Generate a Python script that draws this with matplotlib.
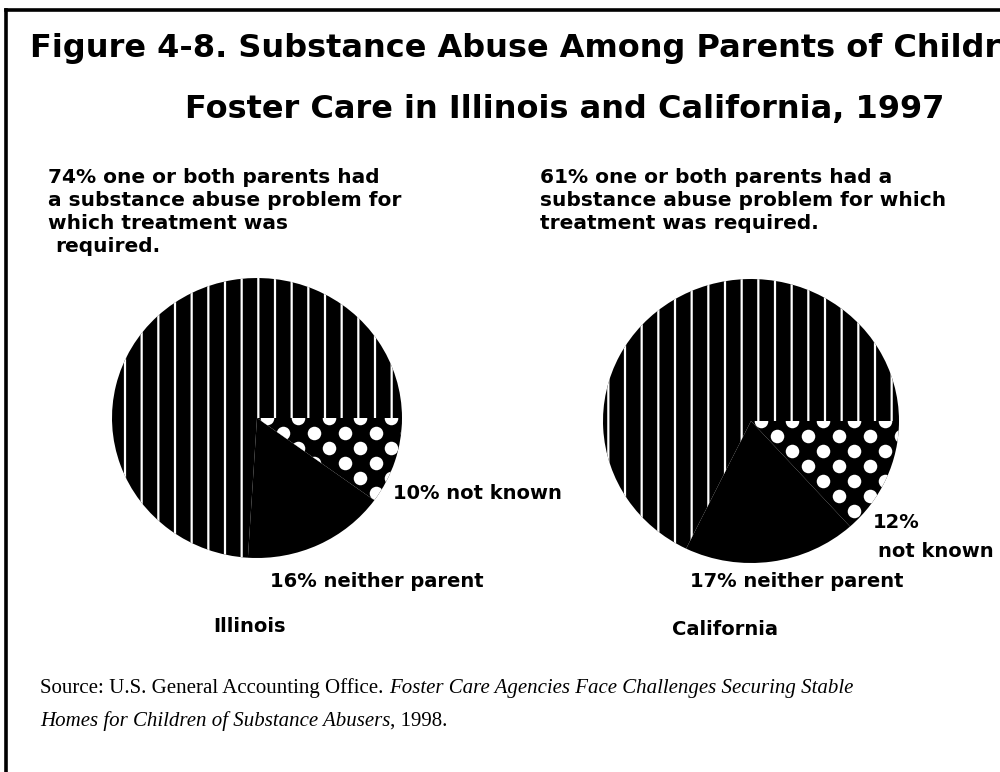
import matplotlib.pyplot as plt
from matplotlib.lines import Line2D
import numpy as np

plt.rcParams["hatch.linewidth"] = 1.6

W, H = 1000, 772

states = ["Illinois", "California"]
treatment_pct = [74, 61]
neither_pct = [16, 17]
unknown_pct = [10, 12]

title_lines = ["Figure 4-8. Substance Abuse Among Parents of Children in",
               "Foster Care in Illinois and California, 1997"]


def fx(x):
    return x / W


def fy(y):
    return 1 - y / H


fig = plt.figure(figsize=(W / 100, H / 100), dpi=100)

# frame round the panel (right and bottom run off the page)
fig.add_artist(Line2D([fx(6), fx(6)], [fy(H + 5), fy(10)], color="black", lw=2.6))
fig.add_artist(Line2D([fx(6), fx(W + 5)], [fy(10), fy(10)], color="black", lw=2.6))

bold = dict(family="DejaVu Sans", weight="bold", color="black")
fig.text(fx(30), fy(57), title_lines[0], fontsize=23, va="baseline", **bold)
fig.text(fx(185), fy(118), title_lines[1], fontsize=23, va="baseline", **bold)

# pie geometry in pixels: centre x, centre y, x radius, y radius
pies = [(257, 418, 145, 140), (751, 421, 148, 142)]

for i, (cx, cy, rx, ry) in enumerate(pies):
    ax = fig.add_axes([fx(cx - rx), fy(cy + ry), 2 * rx / W, 2 * ry / H])
    wedges, _ = ax.pie([unknown_pct[i], neither_pct[i], treatment_pct[i]],
                       startangle=0, counterclock=False,
                       colors=["black", "black", "black"],
                       wedgeprops=dict(linewidth=0))
    ax.set_xlim(-1, 1)
    ax.set_ylim(-1, 1)
    ax.set_aspect("auto")
    ax.axis("off")

    # vertical white pinstripes on the treatment wedge
    wedges[2].set_edgecolor("white")
    wedges[2].set_hatch("|")

    # white dot texture on the "not known" wedge
    dx, dy = 31 / rx, 15 / ry
    pts = []
    for row in range(14):
        y = -row * dy
        x0 = 0.07 + (row % 2) * dx / 2
        for col in range(6):
            pts.append((x0 + col * dx, y))
    pts = np.array(pts)
    sc = ax.scatter(pts[:, 0], pts[:, 1], s=95, color="white", linewidths=0,
                    zorder=3)
    sc.set_clip_path(wedges[0])

lab = dict(fontsize=14, **bold)
note = dict(fontsize=14.5, **bold)

# notes above each pie
fig.text(fx(48), fy(183),
         f"{treatment_pct[0]}% one or both parents had", va="baseline", **note)
fig.text(fx(48), fy(206), "a substance abuse problem for", va="baseline", **note)
fig.text(fx(48), fy(229), "which treatment was", va="baseline", **note)
fig.text(fx(55), fy(252), "required.", va="baseline", **note)

fig.text(fx(540), fy(183),
         f"{treatment_pct[1]}% one or both parents had a", va="baseline", **note)
fig.text(fx(540), fy(206), "substance abuse problem for which", va="baseline", **note)
fig.text(fx(540), fy(229), "treatment was required.", va="baseline", **note)

# wedge labels
fig.text(fx(393), fy(499), f"{unknown_pct[0]}% not known", va="baseline", **lab)
fig.text(fx(270), fy(587), f"{neither_pct[0]}% neither parent", va="baseline", **lab)
fig.text(fx(213), fy(632), states[0], va="baseline", **lab)

fig.text(fx(873), fy(528), f"{unknown_pct[1]}%", va="baseline", **lab)
fig.text(fx(878), fy(557), "not known", va="baseline", **lab)
fig.text(fx(690), fy(587), f"{neither_pct[1]}% neither parent", va="baseline", **lab)
fig.text(fx(672), fy(635), states[1], va="baseline", **lab)

# source note, with the report title in italics; pieces are laid end to end
src = dict(family="Liberation Serif", fontsize=15, color="black", va="baseline")
renderer = fig.canvas.get_renderer()


def run_of_text(x, y, parts):
    for text, style in parts:
        t = fig.text(x, y, text, style=style, **src)
        x = t.get_window_extent(renderer).x1 / W


run_of_text(fx(40), fy(693), [("Source: U.S. General Accounting Office. ", "normal"),
                              ("Foster Care Agencies Face Challenges Securing Stable", "italic")])
run_of_text(fx(40), fy(726), [("Homes for Children of Substance Abusers", "italic"),
                              (", 1998.", "normal")])

fig.savefig("out.png", dpi=100)
